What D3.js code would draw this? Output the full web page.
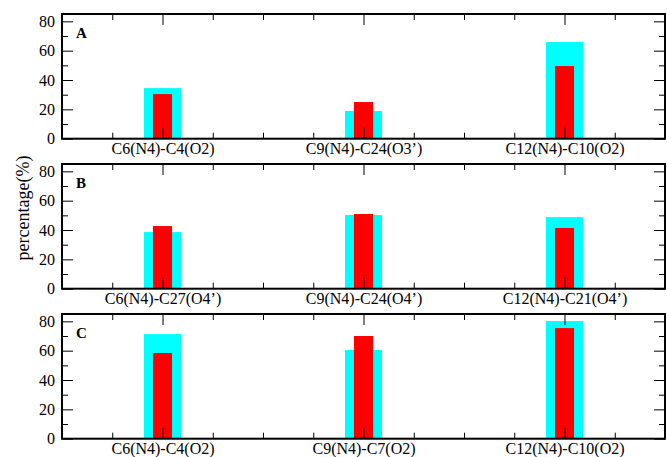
<!DOCTYPE html>
<html>
<head>
<meta charset="utf-8">
<script src="https://cdn.jsdelivr.net/npm/d3@7"></script>
<style>
  body { margin: 0; background: #fff; }
  svg { display: block; font-family: "Liberation Serif", "Times New Roman", serif; }
</style>
</head>
<body>
<div id="chart"></div>
<script>
// Three stacked bar panels: two series (cyan wide, red narrow) per bond pair

const panelNames = ['A', 'B', 'C'];
const categoriesA = ['C6(N4)-C4(O2)', 'C9(N4)-C24(O3\u2019)', 'C12(N4)-C10(O2)'];
const categoriesB = ['C6(N4)-C27(O4\u2019)', 'C9(N4)-C24(O4\u2019)', 'C12(N4)-C21(O4\u2019)'];
const categoriesC = ['C6(N4)-C4(O2)', 'C9(N4)-C7(O2)', 'C12(N4)-C10(O2)'];
const cyanA = [34.5, 18.9, 65.9];
const redA = [30.4, 25.0, 49.5];
const cyanB = [38.6, 50.2, 48.8];
const redB = [42.7, 50.9, 41.4];
const cyanC = [71.3, 60.4, 80.2];
const redC = [58.4, 70.0, 75.4];
const yMajorTicks = [0, 20, 40, 60, 80];
const yMinorTicks = [10, 30, 50, 70];
const xMajorTicks = [1, 2, 3];
const xMinorTicks = [0.75, 1.25, 1.5, 1.75, 2.25, 2.5, 2.75, 3.25];

const panels = [
    { name: panelNames[0], cats: categoriesA, cyan: cyanA, red: redA },
    { name: panelNames[1], cats: categoriesB, cyan: cyanB, red: redB },
    { name: panelNames[2], cats: categoriesC, cyan: cyanC, red: redC }
];

const W = 667, H = 457;
const left = 62, right = 665;
const panelTop = [14, 164, 314];
const panelH = 124.7;

const svg = d3.select('#chart')
    .append('svg')
    .attr('width', W)
    .attr('height', H);

const x = d3.scaleLinear().domain([0.5, 3.5]).range([0, right - left]);
const y = d3.scaleLinear().domain([0, 85]).range([panelH, 0]);

const cyanWidth = 0.184;
const redWidth = 0.095;

panels.forEach((p, i) => {
    const g = svg.append('g')
        .attr('transform', `translate(${left},${panelTop[i]})`);

    // bars
    const idx = d3.range(p.cats.length);
    g.selectAll('.cyan')
        .data(idx)
        .enter()
        .append('rect')
        .attr('x', d => x(d + 1 - cyanWidth / 2))
        .attr('width', x(0.5 + cyanWidth) - x(0.5))
        .attr('y', d => y(p.cyan[d]))
        .attr('height', d => y(0) - y(p.cyan[d]))
        .attr('fill', '#00ffff');

    g.selectAll('.red')
        .data(idx)
        .enter()
        .append('rect')
        .attr('x', d => x(d + 1 - redWidth / 2))
        .attr('width', x(0.5 + redWidth) - x(0.5))
        .attr('y', d => y(p.red[d]))
        .attr('height', d => y(0) - y(p.red[d]))
        .attr('fill', '#ff0000');

    // inward ticks on all four sides
    const tickAxes = [
        [d3.axisTop(x).tickValues(xMajorTicks).tickSize(11), `translate(0,${panelH})`],
        [d3.axisTop(x).tickValues(xMinorTicks).tickSize(6), `translate(0,${panelH})`],
        [d3.axisBottom(x).tickValues(xMajorTicks).tickSize(11), 'translate(0,0)'],
        [d3.axisBottom(x).tickValues(xMinorTicks).tickSize(6), 'translate(0,0)'],
        [d3.axisRight(y).tickValues(yMajorTicks).tickSize(11), 'translate(0,0)'],
        [d3.axisRight(y).tickValues(yMinorTicks).tickSize(6), 'translate(0,0)'],
        [d3.axisLeft(y).tickValues(yMajorTicks).tickSize(11), `translate(${right - left},0)`],
        [d3.axisLeft(y).tickValues(yMinorTicks).tickSize(6), `translate(${right - left},0)`]
    ];
    tickAxes.forEach(([ax, tr]) => {
        const a = g.append('g')
            .attr('transform', tr)
            .call(ax.tickFormat(''));
        a.select('.domain').remove();
        a.selectAll('line').attr('stroke', '#000').attr('stroke-width', 1);
    });

    // y tick labels
    const yl = g.append('g')
        .call(d3.axisLeft(y).tickValues(yMajorTicks).tickSize(0).tickPadding(7));
    yl.select('.domain').remove();
    yl.selectAll('text')
        .attr('fill', '#000')
        .style('font-size', '16px')
        .style('font-family', '"Liberation Serif", serif');

    // category labels
    const xl = g.append('g')
        .attr('transform', `translate(0,${panelH})`)
        .call(d3.axisBottom(x).tickValues([1, 2, 3]).tickSize(0).tickPadding(4)
            .tickFormat((d, k) => p.cats[k]));
    xl.select('.domain').remove();
    xl.selectAll('text')
        .attr('fill', '#000')
        .style('font-size', '16px')
        .style('font-family', '"Liberation Serif", serif');

    // frame
    g.append('rect')
        .attr('x', 0)
        .attr('y', 0)
        .attr('width', right - left)
        .attr('height', panelH)
        .attr('fill', 'none')
        .attr('stroke', '#000')
        .attr('stroke-width', 2);

    // panel letter
    g.append('text')
        .attr('x', 14)
        .attr('y', 23.5)
        .style('font-size', '15px')
        .style('font-weight', 'bold')
        .text(p.name);
});

// shared y-axis label
svg.append('text')
    .attr('transform', 'translate(29,208) rotate(-90)')
    .attr('text-anchor', 'middle')
    .style('font-size', '18px')
    .text('percentage(%)');
</script>
</body>
</html>
